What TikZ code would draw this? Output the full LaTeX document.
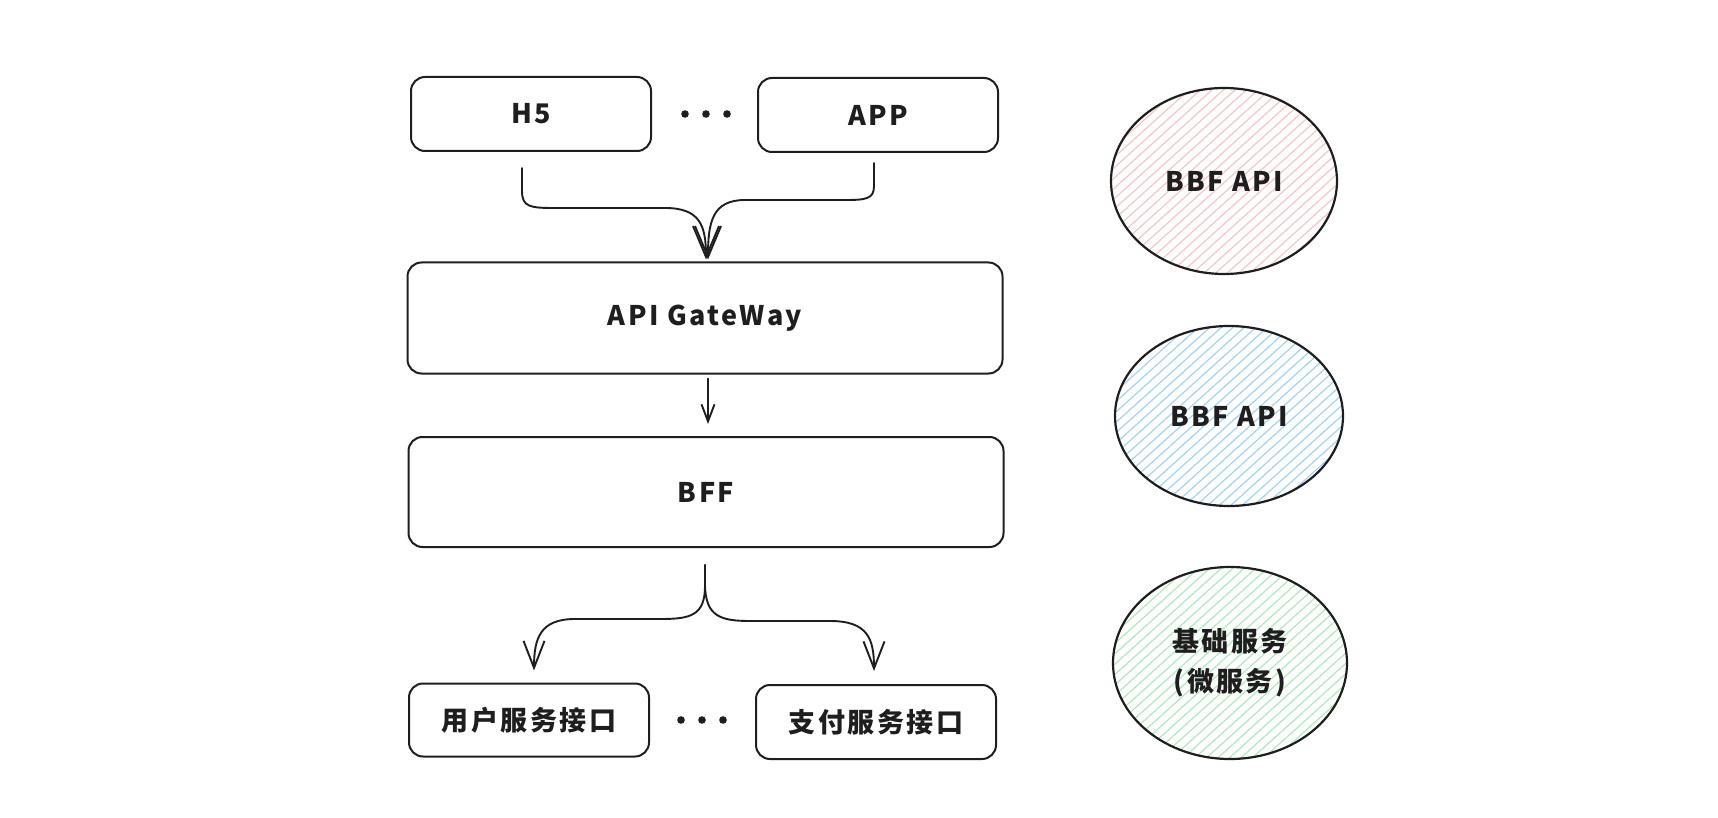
\documentclass[tikz,border=0pt]{standalone}
\usepackage{fontspec}
\setmainfont{Noto Sans CJK SC}[LetterSpace=9]
\usetikzlibrary{arrows.meta,calc,shapes.geometric}
\definecolor{ink}{HTML}{1E1E1E}
\definecolor{hred}{HTML}{FFC2C2}
\definecolor{hblue}{HTML}{9DD2FF}
\definecolor{hgreen}{HTML}{A8EDB2}
\begin{document}
\begin{tikzpicture}[x=1pt,y=-1pt,
  box/.style={draw=ink, line width=2pt, rounded corners=14pt, inner sep=0pt,
    text=ink, font=\fontsize{27}{32}\selectfont\bfseries},
  smallbox/.style={box, minimum width=240pt, minimum height=74pt},
  widebox/.style={box, minimum width=595pt, minimum height=110pt},
  conn/.style={draw=ink, line width=1.9pt, line cap=round, line join=round},
  bigtip/.style={-{Straight Barb[length=31pt,width=26pt,line width=1.9pt]}},
  midtip/.style={-{Straight Barb[length=27pt,width=21pt,line width=1.9pt]}},
  smalltip/.style={-{Straight Barb[length=17pt,width=13pt,line width=1.9pt]}},
  hatch/.style={path picture={
    \foreach \k in {-22,...,22}
      \draw[#1, line width=1.15pt]
        ([xshift=\k*11.5pt]path picture bounding box.south west) -- ++(42:420pt);
  }},
  blob/.style={draw=ink, line width=2.2pt, ellipse, inner sep=0pt, hatch=#1,
    text=ink, align=center, font=\fontsize{27}{40}\selectfont\bfseries},
  dot/.style={fill=ink}
]
\useasboundingbox (0,0) rectangle (1718,818);

% top boxes
\node[smallbox] (h5) at (531,114) {H5};
\node[smallbox] (app) at (878,115) {APP};
\fill[dot] (685,114) circle (3.8pt) (706,114) circle (3.8pt) (727,114) circle (3.8pt);

% wide boxes
\node[widebox, minimum height=111pt] (gw) at (705,318) {API GateWay};
\node[widebox] (bff) at (706,492) {BFF};

% bottom boxes
\node[smallbox, minimum height=73pt] (u1) at (529,720) {用户服务接口};
\node[smallbox] (u2) at (876,722) {支付服务接口};
\fill[dot] (681,720) circle (3.8pt) (702,720) circle (3.8pt) (723,720) circle (3.8pt);

% ellipses
\node[blob=hred, minimum width=226pt, minimum height=186pt] (e1) at (1224,181) {BBF API};
\node[blob=hblue, minimum width=228pt, minimum height=180pt] (e2) at (1229,416) {BBF API};
\node[blob=hgreen, minimum width=234pt, minimum height=192pt] (e3) at (1230,663) {基础服务\\(微服务)};

% connectors: clients -> gateway
\draw[conn, bigtip] ($(h5.south)+(-9,16)$) -- ++(0,23)
  .. controls ++(0,16) and (530,208) .. (555,208) -- (665,208)
  .. controls (700,208) and ($(gw.north)+(1,-36)$) .. ($(gw.north)+(1,-2)$);
\draw[conn, bigtip] ($(app.south)+(-4,10)$) -- ++(0,23)
  .. controls ++(0,13) and (866,200) .. (845,200) -- (745,200)
  .. controls (712,200) and ($(gw.north)+(3,-39)$) .. ($(gw.north)+(3,-2)$);

% gateway -> bff
\draw[conn, smalltip] ($(gw.south)+(3,4)$) -- ($(bff.north)+(2,-12)$);

% bff -> services
\draw[conn, midtip] ($(bff.south)+(-1,17)$) -- ++(0,21)
  .. controls ++(0,30) and (690,619) .. (660,619) -- (575,619)
  .. controls (540,619) and ($(u1.north)+(5,-44)$) .. ($(u1.north)+(5,-12)$);
\draw[conn, midtip] ($(bff.south)+(-1,17)$) -- ++(0,21)
  .. controls ++(1,30) and (720,621) .. (750,621) -- (830,621)
  .. controls (868,621) and ($(u2.north)+(-2,-45)$) .. ($(u2.north)+(-2,-13)$);
\end{tikzpicture}
\end{document}
